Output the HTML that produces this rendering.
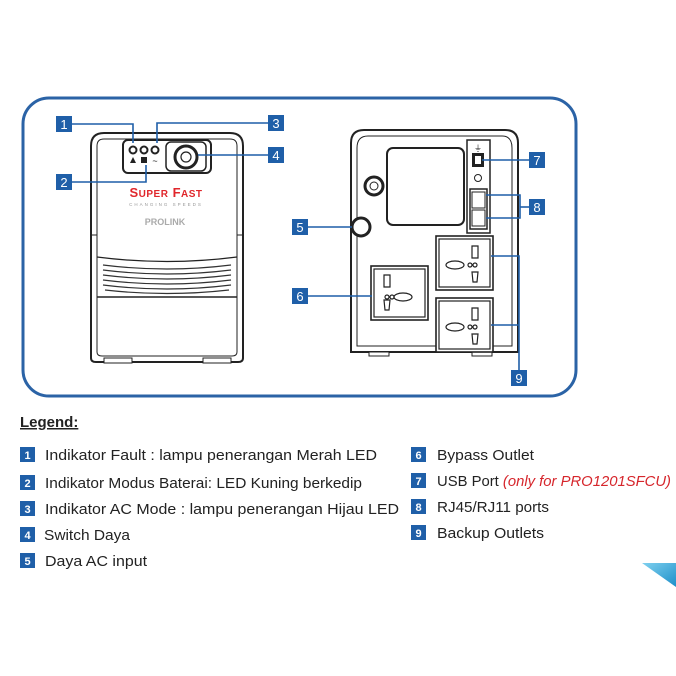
<!DOCTYPE html>
<html><head><meta charset="utf-8"><style>
html,body{margin:0;padding:0;background:#fff;width:676px;height:676px;overflow:hidden}
svg{display:block}
text{font-family:"Liberation Sans",sans-serif}
</style></head><body>
<svg width="676" height="676" viewBox="0 0 676 676" xmlns="http://www.w3.org/2000/svg">
<defs>
<linearGradient id="tg" x1="0" y1="0" x2="1" y2="1"><stop offset="0" stop-color="#7fd0ef"/><stop offset="1" stop-color="#1d8fc9"/></linearGradient>
<g id="outlet">
<rect x="0" y="0" width="57" height="54" fill="#fff" stroke="#222" stroke-width="1.6"/>
<rect x="3" y="3" width="51" height="48" fill="none" stroke="#222" stroke-width="1.2"/>
</g>
</defs>
<rect x="23" y="98" width="553" height="298" rx="26" fill="#fff" stroke="#2b63a6" stroke-width="3"/>

<!-- FRONT UNIT -->
<path d="M91 358 L91 146 Q91 133 104 133 L230 133 Q243 133 243 146 L243 358 Q243 362 238 362 L96 362 Q91 362 91 358Z" fill="#fff" stroke="#222" stroke-width="2"/>
<path d="M97 146 Q97 139 104 139 L230 139 Q237 139 237 146 L237 352 Q237 356 232 356 L102 356 Q97 356 97 352Z" fill="none" stroke="#222" stroke-width="1"/>
<line x1="91" y1="235" x2="97" y2="235" stroke="#222"/><line x1="237" y1="235" x2="243" y2="235" stroke="#222"/>
<path d="M97 257 Q167 266 237 257" fill="none" stroke="#222" stroke-width="1.3"/>
<g stroke="#333" stroke-width="1.2" fill="none">
<path d="M103 265 Q167 273 231 265"/><path d="M103 270 Q167 278 231 270"/><path d="M103 275 Q167 283 231 275"/><path d="M103 280 Q167 288 231 280"/><path d="M103 285 Q167 293 231 285"/><path d="M105 290 Q167 297 229 290"/>
</g>
<line x1="97" y1="297" x2="237" y2="297" stroke="#222" stroke-width="1.5"/>
<rect x="104" y="358" width="28" height="5" fill="#fff" stroke="#222"/>
<rect x="203" y="358" width="28" height="5" fill="#fff" stroke="#222"/>
<rect x="123" y="140" width="88" height="33" rx="5" fill="#fff" stroke="#222" stroke-width="2"/>
<rect x="166" y="142" width="40" height="29" rx="5" fill="#fff" stroke="#222" stroke-width="1.5"/>
<circle cx="186" cy="157" r="11" fill="#fff" stroke="#222" stroke-width="3"/>
<circle cx="186" cy="157" r="5" fill="none" stroke="#222" stroke-width="1.2"/>
<g fill="#fff" stroke="#222" stroke-width="2"><circle cx="133" cy="150" r="3.5"/><circle cx="144" cy="150" r="3.5"/><circle cx="155" cy="150" r="3.5"/></g>
<path d="M130 163 L133 157 L136 163Z" fill="#222"/><rect x="141" y="157" width="6" height="6" fill="#222"/>
<text x="155" y="164" font-size="9" text-anchor="middle" fill="#222">~</text>
<text x="166" y="197" font-size="13" font-weight="bold" fill="#e0262b" text-anchor="middle" letter-spacing="0.5">S<tspan font-size="10">UPER</tspan> F<tspan font-size="10">AST</tspan></text>
<text x="166" y="206" font-size="4.5" fill="#999" text-anchor="middle" letter-spacing="2">CHANGING SPEEDS</text>
<text x="165" y="225" font-size="9" font-weight="bold" fill="#aaa" text-anchor="middle">PROLINK</text>

<!-- BACK UNIT -->
<path d="M351 352 L351 143 Q351 130 364 130 L505 130 Q518 130 518 143 L518 352Z" fill="#fff" stroke="#222" stroke-width="2"/>
<path d="M357 148 Q357 136 368 136 L502 136 Q512 136 512 148 L512 346 L357 346Z" fill="none" stroke="#222" stroke-width="1"/>
<line x1="351" y1="352" x2="518" y2="352" stroke="#222" stroke-width="2"/>
<rect x="369" y="352" width="20" height="4" fill="#fff" stroke="#222"/>
<rect x="472" y="352" width="20" height="4" fill="#fff" stroke="#222"/>
<rect x="387" y="148" width="77" height="77" rx="6" fill="#fff" stroke="#222" stroke-width="2"/>
<circle cx="374" cy="186" r="9" fill="#fff" stroke="#222" stroke-width="3"/><circle cx="374" cy="186" r="4" fill="none" stroke="#222"/>
<circle cx="361" cy="227" r="9" fill="#fff" stroke="#222" stroke-width="3"/>
<rect x="467" y="140" width="23" height="93" fill="#fff" stroke="#222" stroke-width="1.5"/>
<rect x="472" y="153" width="12" height="14" fill="#222"/><rect x="475" y="156" width="6" height="8" fill="#fff"/>
<text x="478" y="151" font-size="8" text-anchor="middle" fill="#222">⏚</text>
<circle cx="478" cy="178" r="3.5" fill="none" stroke="#222"/>
<rect x="470" y="189" width="17" height="40" fill="#fff" stroke="#222" stroke-width="1.5"/>
<rect x="472" y="192" width="13" height="16" fill="none" stroke="#222"/><rect x="472" y="210" width="13" height="16" fill="none" stroke="#222"/>
<use href="#outlet" x="371" y="266"/>
<use href="#outlet" x="436" y="236"/>
<use href="#outlet" x="436" y="298"/>
<g fill="none" stroke="#222" stroke-width="1.2">
<path d="M384 275 h6 v12 h-6z"/><path d="M384 300 h6 l-1 10 h-4z"/><ellipse cx="403" cy="297" rx="9" ry="4"/><circle cx="387" cy="297" r="2"/><circle cx="392" cy="297" r="2"/>
<path d="M472 246 h6 v12 h-6z"/><path d="M472 272 h6 l-1 10 h-4z"/><ellipse cx="455" cy="265" rx="9" ry="4"/><circle cx="470" cy="265" r="2"/><circle cx="475" cy="265" r="2"/>
<path d="M472 308 h6 v12 h-6z"/><path d="M472 334 h6 l-1 10 h-4z"/><ellipse cx="455" cy="327" rx="9" ry="4"/><circle cx="470" cy="327" r="2"/><circle cx="475" cy="327" r="2"/>
</g>

<!-- callouts -->
<g stroke="#1f5fa8" stroke-width="1.6" fill="none">
<polyline points="72,124 133,124 133,143"/>
<polyline points="268,123 157,123 157,143"/>
<line x1="198" y1="155" x2="268" y2="155"/>
<polyline points="72,182 146,182 146,165"/>
<line x1="308" y1="227" x2="352" y2="227"/>
<line x1="308" y1="296" x2="372" y2="296"/>
<line x1="482" y1="160" x2="529" y2="160"/>
<polyline points="486,195 520,195 520,218 486,218"/><line x1="520" y1="207" x2="529" y2="207"/>
<polyline points="491,256 519,256 519,370"/><line x1="491" y1="325" x2="519" y2="325"/>
</g>

<g font-size="13" fill="#fff" text-anchor="middle">
<rect x="56" y="116" width="16" height="16" fill="#1f5fa8"/><text x="64" y="129">1</text>
<rect x="268" y="115" width="16" height="16" fill="#1f5fa8"/><text x="276" y="128">3</text>
<rect x="268" y="147" width="16" height="16" fill="#1f5fa8"/><text x="276" y="160">4</text>
<rect x="56" y="174" width="16" height="16" fill="#1f5fa8"/><text x="64" y="187">2</text>
<rect x="292" y="219" width="16" height="16" fill="#1f5fa8"/><text x="300" y="232">5</text>
<rect x="292" y="288" width="16" height="16" fill="#1f5fa8"/><text x="300" y="301">6</text>
<rect x="529" y="152" width="16" height="16" fill="#1f5fa8"/><text x="537" y="165">7</text>
<rect x="529" y="199" width="16" height="16" fill="#1f5fa8"/><text x="537" y="212">8</text>
<rect x="511" y="370" width="16" height="16" fill="#1f5fa8"/><text x="519" y="383">9</text>
</g>

<!-- legend -->
<text x="20" y="427" font-size="15" font-weight="bold" fill="#222" text-decoration="underline">Legend:</text>
<g font-size="11" font-weight="bold" fill="#fff" text-anchor="middle">
<rect x="20" y="447" width="15" height="15" fill="#1f5fa8"/><text x="27.5" y="459">1</text>
<rect x="20" y="475" width="15" height="15" fill="#1f5fa8"/><text x="27.5" y="487">2</text>
<rect x="20" y="501" width="15" height="15" fill="#1f5fa8"/><text x="27.5" y="513">3</text>
<rect x="20" y="527" width="15" height="15" fill="#1f5fa8"/><text x="27.5" y="539">4</text>
<rect x="20" y="553" width="15" height="15" fill="#1f5fa8"/><text x="27.5" y="565">5</text>
<rect x="411" y="447" width="15" height="15" fill="#1f5fa8"/><text x="418.5" y="459">6</text>
<rect x="411" y="473" width="15" height="15" fill="#1f5fa8"/><text x="418.5" y="485">7</text>
<rect x="411" y="499" width="15" height="15" fill="#1f5fa8"/><text x="418.5" y="511">8</text>
<rect x="411" y="525" width="15" height="15" fill="#1f5fa8"/><text x="418.5" y="537">9</text>
</g>
<g font-size="15" fill="#222">
<text x="45" y="460" textLength="332" lengthAdjust="spacingAndGlyphs">Indikator Fault : lampu penerangan Merah LED</text>
<text x="45" y="488" textLength="317" lengthAdjust="spacingAndGlyphs">Indikator Modus Baterai: LED Kuning berkedip</text>
<text x="45" y="514" textLength="354" lengthAdjust="spacingAndGlyphs">Indikator AC Mode : lampu penerangan Hijau LED</text>
<text x="44" y="540" textLength="86" lengthAdjust="spacingAndGlyphs">Switch Daya</text>
<text x="45" y="566" textLength="102" lengthAdjust="spacingAndGlyphs">Daya AC input</text>
<text x="437" y="460" textLength="97" lengthAdjust="spacingAndGlyphs">Bypass Outlet</text>
<text x="437" y="486" textLength="234" lengthAdjust="spacingAndGlyphs">USB Port <tspan fill="#d6262c" font-style="italic">(only for PRO1201SFCU)</tspan></text>
<text x="437" y="512" textLength="112" lengthAdjust="spacingAndGlyphs">RJ45/RJ11 ports</text>
<text x="437" y="538" textLength="107" lengthAdjust="spacingAndGlyphs">Backup Outlets</text>
</g>
<path d="M642 563 L676 563 L676 587Z" fill="url(#tg)"/>
</svg>
</body></html>
